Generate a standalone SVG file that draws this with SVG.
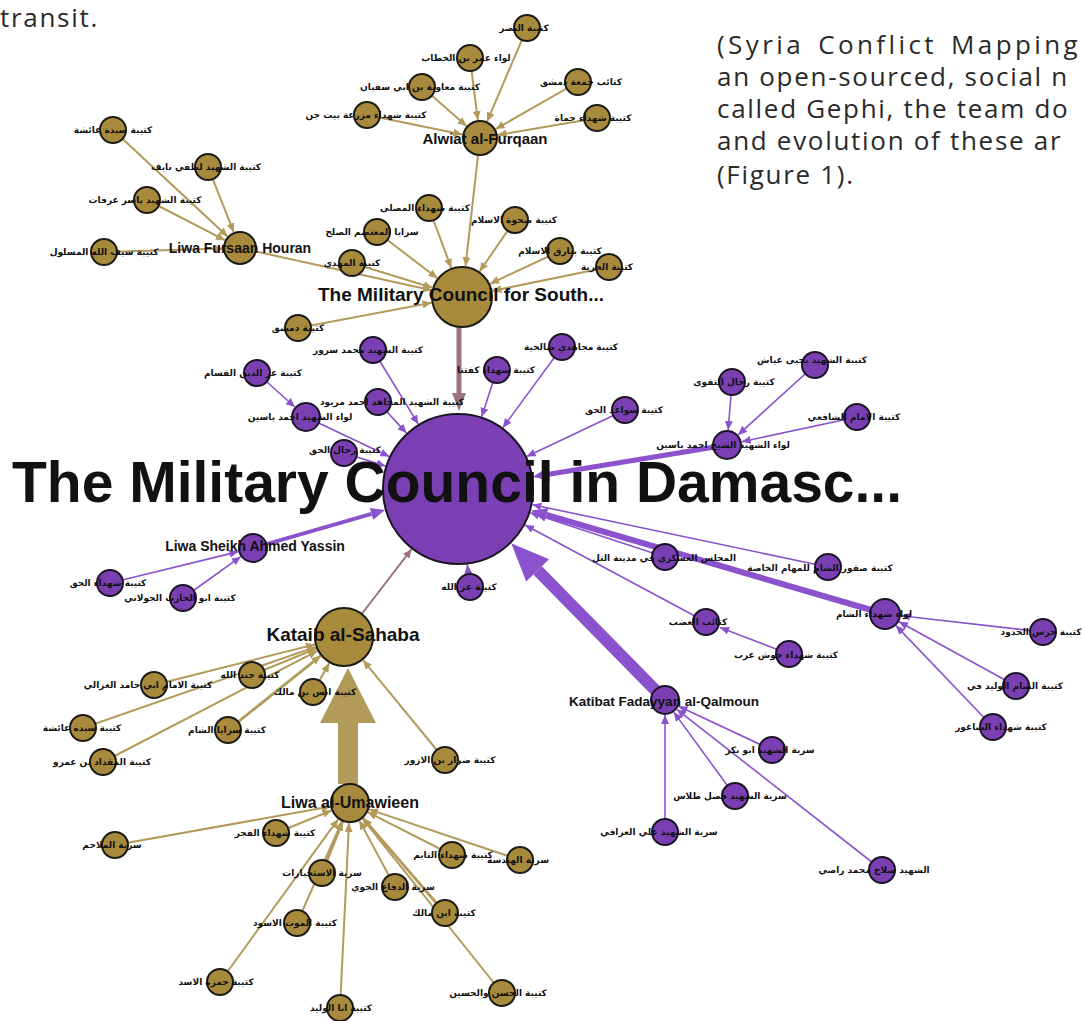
<svg xmlns="http://www.w3.org/2000/svg" width="1082" height="1021" viewBox="0 0 1082 1021">
<defs>
<style>
.g{fill:#a88a3d;stroke:#1c1a14;stroke-width:2}
.p{fill:#7a40b3;stroke:#1c1424;stroke-width:2}
.eg{stroke:#b29a5a;stroke-width:2;fill:none;marker-end:url(#ag)}
.eg3{stroke:#b29a5a;stroke-width:2.8;fill:none;marker-end:url(#ag)}
.ep{stroke:#8a52cc;stroke-width:1.6;fill:none;marker-end:url(#ap)}
.em{stroke:#9c7380;stroke-width:2;fill:none;marker-end:url(#am)}
.lab{font-family:"DejaVu Sans",sans-serif;font-size:9px;font-weight:bold;fill:#111;text-anchor:middle}
.hub{font-family:"Liberation Sans",Arial,sans-serif;font-weight:bold;fill:#111;text-anchor:middle}
.body{font-family:"Open Sans","Noto Sans",sans-serif;font-size:26px;letter-spacing:1.7px;fill:#2a2a2a}
</style>
<marker id="ag" markerUnits="userSpaceOnUse" markerWidth="10" markerHeight="8" refX="9" refY="4" orient="auto"><path d="M0,0 L9,4 L0,8 z" fill="#b29a5a"/></marker>
<marker id="ap" markerUnits="userSpaceOnUse" markerWidth="10" markerHeight="8" refX="9" refY="4" orient="auto"><path d="M0,0 L9,4 L0,8 z" fill="#8a52cc"/></marker>
<marker id="am" markerUnits="userSpaceOnUse" markerWidth="10" markerHeight="8" refX="9" refY="4" orient="auto"><path d="M0,0 L9,4 L0,8 z" fill="#9c7380"/></marker>
</defs>
<rect width="1082" height="1021" fill="#ffffff"/>

<g id="page-text">
<text class="body" x="0" y="27">transit.</text>
<text class="body" x="717" y="54" style="letter-spacing:3.4px" word-spacing="4">(Syria Conflict Mapping</text>
<text class="body" x="717" y="86">an open-sourced, social n</text>
<text class="body" x="717" y="118">called Gephi, the team do</text>
<text class="body" x="717" y="150">and evolution of these ar</text>
<text class="body" x="717" y="184">(Figure 1).</text>
</g>

<g id="connectors">
<line class="eg" x1="527" y1="28" x2="487.1" y2="121.4"/>
<line class="eg" x1="470" y1="58" x2="477.8" y2="120.1"/>
<line class="eg" x1="422" y1="87" x2="466.5" y2="126.1"/>
<line class="eg" x1="367" y1="115" x2="462.4" y2="134.4"/>
<line class="eg" x1="578" y1="82" x2="495.6" y2="129.1"/>
<line class="eg" x1="597" y1="118" x2="497.7" y2="135"/>
<line class="eg" x1="480" y1="138" x2="465.5" y2="266.2"/>
<line class="eg" x1="113" y1="130" x2="227.6" y2="236.4"/>
<line class="eg" x1="208" y1="167" x2="233.8" y2="232.2"/>
<line class="eg" x1="147" y1="200" x2="224.9" y2="240.2"/>
<line class="eg" x1="104" y1="252" x2="223" y2="248.5"/>
<line class="eg" x1="240" y1="248" x2="431.7" y2="290.3"/>
<line class="eg" x1="429" y1="208" x2="451.2" y2="267.9"/>
<line class="eg" x1="377" y1="232" x2="437.4" y2="278.2"/>
<line class="eg" x1="352" y1="263" x2="432.4" y2="287.8"/>
<line class="eg" x1="515" y1="220" x2="479.6" y2="271.5"/>
<line class="eg" x1="560" y1="251" x2="490.1" y2="283.8"/>
<line class="eg" x1="609" y1="267" x2="492.4" y2="290.8"/>
<line class="eg" x1="298" y1="328" x2="431.5" y2="302.8"/>
<line x1="459" y1="327" x2="459" y2="395" stroke="#9c7380" stroke-width="5"/>
<polygon points="452,393 466,393 459,411" fill="#9c7380"/>
<line class="ep" x1="373" y1="350" x2="418.3" y2="424.2"/>
<line class="ep" x1="257" y1="373" x2="294.8" y2="407"/>
<line class="ep" x1="306" y1="417" x2="389.3" y2="456.5"/>
<line class="ep" x1="378" y1="402" x2="406.5" y2="433.1"/>
<line class="ep" x1="344" y1="453" x2="385.5" y2="466.1"/>
<line class="ep" x1="497" y1="370" x2="481.6" y2="416.8"/>
<line class="ep" x1="562" y1="347" x2="502.9" y2="427.7"/>
<line class="ep" x1="625" y1="410" x2="526.7" y2="456.5"/>
<line class="ep" x1="815" y1="365" x2="738.1" y2="434.9"/>
<line class="ep" x1="732" y1="382" x2="728.2" y2="430"/>
<line class="ep" x1="857" y1="417" x2="741.7" y2="441.8"/>
<line x1="727" y1="445" x2="548.8" y2="474.2" stroke="#8a52cc" stroke-width="5"/>
<polygon points="547.7,467.3 549.9,481.1 533,476.8" fill="#8a52cc"/>
<line x1="253" y1="548" x2="371.5" y2="513.9" stroke="#8a52cc" stroke-width="4"/>
<polygon points="373.2,519.7 369.8,508.1 385,510" fill="#8a52cc"/>
<line class="ep" x1="110" y1="583" x2="238.4" y2="551.6"/>
<line class="ep" x1="183" y1="598" x2="240.8" y2="556.7"/>
<line class="em" x1="344" y1="637" x2="411.6" y2="549.2"/>
<line class="ep" x1="470" y1="587" x2="467.3" y2="564.5"/>
<line class="ep" x1="665" y1="557" x2="530.2" y2="512.7"/>
<line class="ep" x1="828" y1="567" x2="532.4" y2="504.7"/>
<line x1="885" y1="614" x2="546.4" y2="514.9" stroke="#8a52cc" stroke-width="6"/>
<polygon points="548.4,508.2 544.4,521.6 531,510.4" fill="#8a52cc"/>
<line class="ep" x1="706" y1="622" x2="525" y2="525"/>
<line class="ep" x1="789" y1="654" x2="720" y2="627.4"/>
<line class="ep" x1="1043" y1="632" x2="900.9" y2="615.8"/>
<line class="ep" x1="1016" y1="686" x2="899" y2="621.7"/>
<line class="ep" x1="993" y1="727" x2="896" y2="625.6"/>
<line x1="665" y1="700" x2="537.6" y2="570.4" stroke="#8a52cc" stroke-width="12"/>
<polygon points="549,559.2 526.2,581.6 511.2,543.3" fill="#8a52cc"/>
<line class="ep" x1="772" y1="750" x2="678.6" y2="706.3"/>
<line class="ep" x1="735" y1="796" x2="673.8" y2="712.1"/>
<line class="ep" x1="665" y1="832" x2="665" y2="715"/>
<line class="ep" x1="882" y1="870" x2="676.8" y2="709.3"/>
<line class="eg" x1="252" y1="675" x2="316.3" y2="648.5"/>
<line class="eg" x1="154" y1="685" x2="314.9" y2="644.4"/>
<line class="eg" x1="313" y1="692" x2="329.3" y2="663.1"/>
<line class="eg" x1="83" y1="728" x2="315.7" y2="646.9"/>
<line class="eg3" x1="228" y1="730" x2="320.6" y2="655.8"/>
<line class="eg" x1="103" y1="762" x2="317.4" y2="650.8"/>
<line class="eg" x1="445" y1="760" x2="363" y2="660.2"/>
<line x1="348" y1="784" x2="348" y2="721" stroke="#b29a5a" stroke-width="20"/>
<polygon points="320,723 376,723 348,668" fill="#b29a5a"/>
<line class="eg" x1="276" y1="833" x2="331.5" y2="810.5"/>
<line class="eg" x1="115" y1="845" x2="330.4" y2="806.6"/>
<line class="eg3" x1="322" y1="873" x2="342.6" y2="821.6"/>
<line class="eg" x1="297" y1="923" x2="341.9" y2="821.3"/>
<line class="eg" x1="220" y1="982" x2="338.2" y2="819.2"/>
<line class="eg" x1="340" y1="1008" x2="349" y2="823"/>
<line class="eg" x1="395" y1="887" x2="359.4" y2="820.6"/>
<line class="eg3" x1="445" y1="913" x2="363.1" y2="818.1"/>
<line class="eg" x1="452" y1="855" x2="367.8" y2="812.1"/>
<line class="eg" x1="520" y1="860" x2="369" y2="809.4"/>
<line class="eg" x1="502" y1="993" x2="362.5" y2="818.6"/>
</g>

<g id="node-alwiat"><circle class="g" cx="480" cy="138" r="17"/></g>
<g id="node-g-nasr"><circle class="g" cx="527" cy="28" r="13"/></g>
<g id="node-g-omar"><circle class="g" cx="470" cy="58" r="13"/></g>
<g id="node-g-muawiya"><circle class="g" cx="422" cy="87" r="13"/></g>
<g id="node-g-beitjinn"><circle class="g" cx="367" cy="115" r="13"/></g>
<g id="node-g-jumaa"><circle class="g" cx="578" cy="82" r="13"/></g>
<g id="node-g-hama"><circle class="g" cx="597" cy="118" r="13"/></g>
<g id="node-fursaan"><circle class="g" cx="240" cy="248" r="16"/></g>
<g id="node-g-aisha1"><circle class="g" cx="113" cy="130" r="13"/></g>
<g id="node-g-nayef"><circle class="g" cx="208" cy="167" r="13"/></g>
<g id="node-g-arafat"><circle class="g" cx="147" cy="200" r="13"/></g>
<g id="node-g-sayf"><circle class="g" cx="104" cy="252" r="13"/></g>
<g id="node-south"><circle class="g" cx="462" cy="297" r="30"/></g>
<g id="node-g-musalla"><circle class="g" cx="429" cy="208" r="13"/></g>
<g id="node-g-sulh"><circle class="g" cx="377" cy="232" r="13"/></g>
<g id="node-g-mahdi"><circle class="g" cx="352" cy="263" r="13"/></g>
<g id="node-g-sahwa"><circle class="g" cx="515" cy="220" r="13"/></g>
<g id="node-g-bayariq"><circle class="g" cx="560" cy="251" r="13"/></g>
<g id="node-g-hurriya"><circle class="g" cx="609" cy="267" r="13"/></g>
<g id="node-g-dimashq"><circle class="g" cx="298" cy="328" r="13"/></g>

<g id="node-damascus"><circle class="p" cx="458" cy="489" r="75"/></g>
<g id="node-p-surur"><circle class="p" cx="373" cy="350" r="13"/></g>
<g id="node-p-qassam"><circle class="p" cx="257" cy="373" r="13"/></g>
<g id="node-p-mraywed"><circle class="p" cx="378" cy="402" r="13"/></g>
<g id="node-p-yassin-liwa"><circle class="p" cx="306" cy="417" r="14"/></g>
<g id="node-p-rijal-haq"><circle class="p" cx="344" cy="453" r="13"/></g>
<g id="node-p-kafr"><circle class="p" cx="497" cy="370" r="13"/></g>
<g id="node-p-salihiya"><circle class="p" cx="562" cy="347" r="13"/></g>
<g id="node-p-sawaid"><circle class="p" cx="625" cy="410" r="13"/></g>
<g id="node-p-ayyash"><circle class="p" cx="815" cy="365" r="13"/></g>
<g id="node-p-taqwa"><circle class="p" cx="732" cy="382" r="13"/></g>
<g id="node-p-shafii"><circle class="p" cx="857" cy="417" r="13"/></g>
<g id="node-p-sheikh-yassin"><circle class="p" cx="727" cy="445" r="14"/></g>
<g id="node-lsay"><circle class="p" cx="253" cy="548" r="14"/></g>
<g id="node-p-shuhada-haq"><circle class="p" cx="110" cy="583" r="13"/></g>
<g id="node-p-jawlani"><circle class="p" cx="183" cy="598" r="13"/></g>
<g id="node-p-izz"><circle class="p" cx="470" cy="587" r="13"/></g>
<g id="node-p-tall"><circle class="p" cx="665" cy="557" r="13"/></g>
<g id="node-p-suqur"><circle class="p" cx="828" cy="567" r="13"/></g>
<g id="node-p-shuhada-sham"><circle class="p" cx="885" cy="614" r="15"/></g>
<g id="node-p-ghadab"><circle class="p" cx="706" cy="622" r="13"/></g>
<g id="node-p-hawsh"><circle class="p" cx="789" cy="654" r="13"/></g>
<g id="node-p-haras"><circle class="p" cx="1043" cy="632" r="13"/></g>
<g id="node-p-walid"><circle class="p" cx="1016" cy="686" r="13"/></g>
<g id="node-p-shaghur"><circle class="p" cx="993" cy="727" r="13"/></g>
<g id="node-qalmoun"><circle class="p" cx="665" cy="700" r="14"/></g>
<g id="node-p-bakr"><circle class="p" cx="772" cy="750" r="13"/></g>
<g id="node-p-tlass"><circle class="p" cx="735" cy="796" r="13"/></g>
<g id="node-p-iraqi"><circle class="p" cx="665" cy="832" r="13"/></g>
<g id="node-p-radi"><circle class="p" cx="882" cy="870" r="13"/></g>

<g id="node-sahaba"><circle class="g" cx="344" cy="637" r="29"/></g>
<g id="node-g-jund"><circle class="g" cx="252" cy="675" r="13"/></g>
<g id="node-g-ghazali"><circle class="g" cx="154" cy="685" r="13"/></g>
<g id="node-g-anas"><circle class="g" cx="313" cy="692" r="13"/></g>
<g id="node-g-aisha2"><circle class="g" cx="83" cy="728" r="13"/></g>
<g id="node-g-saraya-sham"><circle class="g" cx="228" cy="730" r="13"/></g>
<g id="node-g-miqdad"><circle class="g" cx="103" cy="762" r="13"/></g>
<g id="node-g-dirar"><circle class="g" cx="445" cy="760" r="13"/></g>
<g id="node-umawieen"><circle class="g" cx="350" cy="803" r="19"/></g>
<g id="node-g-fajr"><circle class="g" cx="276" cy="833" r="13"/></g>
<g id="node-g-malahim"><circle class="g" cx="115" cy="845" r="13"/></g>
<g id="node-g-istikhbarat"><circle class="g" cx="322" cy="873" r="13"/></g>
<g id="node-g-mawt"><circle class="g" cx="297" cy="923" r="13"/></g>
<g id="node-g-hamza"><circle class="g" cx="220" cy="982" r="13"/></g>
<g id="node-g-walid"><circle class="g" cx="340" cy="1008" r="13"/></g>
<g id="node-g-difa"><circle class="g" cx="395" cy="887" r="13"/></g>
<g id="node-g-malik"><circle class="g" cx="445" cy="913" r="13"/></g>
<g id="node-g-taym"><circle class="g" cx="452" cy="855" r="13"/></g>
<g id="node-g-handasa"><circle class="g" cx="520" cy="860" r="13"/></g>
<g id="node-g-hasan"><circle class="g" cx="502" cy="993" r="13"/></g>

<g id="labels">
<text class="lab" x="524" y="31">كتيبة النصر</text>
<text class="lab" x="466" y="61">لواء عمر بن الخطاب</text>
<text class="lab" x="420" y="90">كتيبة معاوية بن ابي سفيان</text>
<text class="lab" x="366" y="118">كتيبة شهداء مزرعة بيت جن</text>
<text class="lab" x="581" y="85">كتائب جمعة دمشق</text>
<text class="lab" x="593" y="121">كتيبة شهداء حماة</text>
<text class="lab" x="113" y="133">كتيبة سيدة عائشة</text>
<text class="lab" x="206" y="170">كتيبة الشهيد لطفي نايف</text>
<text class="lab" x="145" y="203">كتيبة الشهيد ياسر عرفات</text>
<text class="lab" x="104" y="255">كتيبة سيف الله المسلول</text>
<text class="lab" x="425" y="211">كتيبة شهداء المصلى</text>
<text class="lab" x="372" y="235">سرايا المعتصم الصلح</text>
<text class="lab" x="352" y="266">كتيبة المهدي</text>
<text class="lab" x="514" y="223">كتيبة صحوة الاسلام</text>
<text class="lab" x="560" y="254">كتيبة بيارق الاسلام</text>
<text class="lab" x="607" y="270">كتيبة الحرية</text>
<text class="lab" x="298" y="331">كتيبة دمشق</text>
<text class="lab" x="368" y="353">كتيبة الشهيد محمد سرور</text>
<text class="lab" x="253" y="376">كتيبة عز الدين القسام</text>
<text class="lab" x="392" y="405">كتيبة الشهيد المجاهد احمد مريود</text>
<text class="lab" x="300" y="420">لواء الشهيد احمد ياسين</text>
<text class="lab" x="345" y="453">كتيبة رجال الحق</text>
<text class="lab" x="496" y="373">كتيبة شهداء كفتنا</text>
<text class="lab" x="571" y="350">كتيبة مجاهدي صالحية</text>
<text class="lab" x="624" y="413">كتيبة سواعد الحق</text>
<text class="lab" x="812" y="363">كتيبة الشهيد يحيى عياش</text>
<text class="lab" x="734" y="385">كتيبة رجال التقوى</text>
<text class="lab" x="854" y="420">كتيبة الامام الشافعي</text>
<text class="lab" x="723" y="448">لواء الشهيد الشيخ احمد ياسين</text>
<text class="lab" x="108" y="586">كتيبة شهداء الحق</text>
<text class="lab" x="180" y="601">كتيبة ابو الحارث الجولاني</text>
<text class="lab" x="469" y="590">كتيبة عز الله</text>
<text class="lab" x="664" y="561">المجلس العسكري في مدينة التل</text>
<text class="lab" x="820" y="571">كتيبة صقور الشام للمهام الخاصة</text>
<text class="lab" x="874" y="617">لواء شهداء الشام</text>
<text class="lab" x="698" y="625">كتائب الغضب</text>
<text class="lab" x="786" y="658">كتيبة شهداء حوش عرب</text>
<text class="lab" x="1041" y="635">كتيبة حرس الحدود</text>
<text class="lab" x="1015" y="689">كتيبة الشام الوليد في</text>
<text class="lab" x="1001" y="730">كتيبة شهداء الشاغور</text>
<text class="lab" x="770" y="753">سرية الشهيد ابو بكر</text>
<text class="lab" x="730" y="799">سرية الشهيد فضل طلاس</text>
<text class="lab" x="659" y="835">سرية الشهيد علي العراقي</text>
<text class="lab" x="874" y="873">الشهيد صلاح محمد راضي</text>
<text class="lab" x="250" y="678">كتيبة جند الله</text>
<text class="lab" x="148" y="688">كتيبة الامام ابي حامد الغزالي</text>
<text class="lab" x="315" y="695">كتيبة انس بن مالك</text>
<text class="lab" x="82" y="731">كتيبة سيدة عائشة</text>
<text class="lab" x="227" y="733">كتيبة سرايا الشام</text>
<text class="lab" x="102" y="765">كتيبة المقداد بن عمرو</text>
<text class="lab" x="450" y="763">كتيبة ضرار بن الازور</text>
<text class="lab" x="275" y="836">كتيبة شهداء الفجر</text>
<text class="lab" x="112" y="848">سرية الملاحم</text>
<text class="lab" x="322" y="876">سرية الاستخبارات</text>
<text class="lab" x="295" y="926">كتيبة الموت الاسود</text>
<text class="lab" x="216" y="985">كتيبة حمزة الاسد</text>
<text class="lab" x="341" y="1011">كتيبة ابا الوليد</text>
<text class="lab" x="393" y="890">سرية الدفاع الجوي</text>
<text class="lab" x="444" y="916">كتيبة ابن مالك</text>
<text class="lab" x="453" y="858">كتيبة شهداء التايم</text>
<text class="lab" x="518" y="863">سرية الهندسة</text>
<text class="lab" x="498" y="996">كتيبة الحسن والحسين</text>

<text class="hub" x="485" y="144" font-size="15" font-weight="normal">Alwiat al-Furqaan</text>
<text class="hub" x="240" y="253" font-size="14">Liwa Fursaan Houran</text>
<text class="hub" x="461" y="301" font-size="19">The Military Council for South...</text>
<text class="hub" x="12" y="502" font-size="57" style="text-anchor:start">The Military Council in Damasc...</text>
<text class="hub" x="255" y="551" font-size="14">Liwa Sheikh Ahmed Yassin</text>
<text class="hub" x="343" y="641" font-size="19">Kataib al-Sahaba</text>
<text class="hub" x="664" y="706" font-size="13.5" fill="#222">Katibat Fadayyan al-Qalmoun</text>
<text class="hub" x="350" y="808" font-size="16">Liwa al-Umawieen</text>
</g>
</svg>
